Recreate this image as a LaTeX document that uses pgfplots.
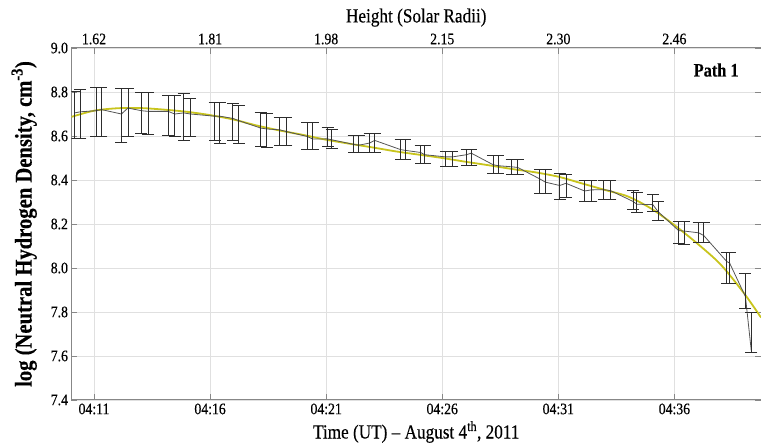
\documentclass[border=0pt]{standalone}
\usepackage{fontspec}
\setmainfont{Liberation Serif}[FakeStretch=0.86, FakeBold=0.35]
\usepackage{pgfplots}
\pgfplotsset{compat=1.18}
\usepackage{pgfplotstable}

\definecolor{fitcol}{RGB}{200,196,28}
\definecolor{datcol}{RGB}{85,85,85}
\definecolor{barcol}{RGB}{45,45,45}
\definecolor{gridcol}{RGB}{224,224,224}
\definecolor{axiscol}{RGB}{135,135,135}

% time in minutes after 04:00 UT, log density, upper and lower error
\pgfplotstableread{
t y ep em
10.17 8.705 0.100 0.115
10.41 8.710 0.100 0.120
11.10 8.715 0.105 0.115
11.32 8.720 0.100 0.120
12.18 8.700 0.115 0.130
12.46 8.727 0.090 0.130
13.04 8.715 0.085 0.105
13.33 8.712 0.085 0.105
14.19 8.712 0.075 0.110
14.48 8.700 0.085 0.100
14.86 8.705 0.087 0.125
15.15 8.700 0.070 0.100
16.20 8.690 0.065 0.110
16.42 8.690 0.065 0.125
16.98 8.680 0.070 0.100
17.23 8.670 0.070 0.105
18.18 8.636 0.070 0.085
18.44 8.632 0.073 0.083
19.00 8.628 0.057 0.071
19.29 8.620 0.065 0.063
20.18 8.598 0.066 0.060
20.42 8.586 0.078 0.048
21.06 8.587 0.053 0.034
21.23 8.583 0.046 0.038
22.18 8.562 0.040 0.037
22.40 8.558 0.045 0.033
22.87 8.568 0.042 0.043
23.09 8.580 0.030 0.055
24.21 8.538 0.045 0.046
24.39 8.535 0.048 0.043
25.07 8.525 0.031 0.048
25.24 8.515 0.041 0.038
26.15 8.505 0.025 0.043
26.44 8.505 0.025 0.043
27.05 8.515 0.023 0.050
27.25 8.522 0.016 0.055
28.18 8.470 0.042 0.041
28.40 8.465 0.047 0.036
28.99 8.460 0.035 0.036
29.25 8.457 0.038 0.033
30.20 8.405 0.042 0.064
30.45 8.390 0.057 0.049
31.06 8.375 0.057 0.061
31.33 8.385 0.040 0.065
32.13 8.350 0.048 0.047
32.42 8.355 0.043 0.052
32.95 8.356 0.042 0.046
33.24 8.352 0.046 0.042
34.21 8.303 0.050 0.038
34.38 8.290 0.054 0.037
35.07 8.288 0.045 0.031
35.29 8.257 0.046 0.042
36.18 8.170 0.042 0.056
36.42 8.168 0.044 0.062
37.04 8.160 0.047 0.044
37.26 8.148 0.059 0.032
38.25 8.030 0.041 0.098
38.38 8.022 0.050 0.090
39.06 7.870 0.104 0.052
39.31 7.625 0.173 0.009
}\hdata

% fitted profile
\pgfplotstableread{
t y
10.03 8.687
11.0 8.715
12.0 8.726
13.0 8.727
14.0 8.720
15.0 8.710
16.0 8.695
17.0 8.675
18.0 8.648
19.0 8.625
20.0 8.605
21.0 8.583
22.0 8.565
23.0 8.548
24.0 8.530
25.0 8.515
26.0 8.500
27.0 8.483
28.0 8.467
29.0 8.450
30.0 8.435
31.0 8.415
32.0 8.385
33.0 8.355
34.0 8.325
35.0 8.270
36.0 8.195
37.0 8.110
38.0 8.015
39.0 7.885
39.73 7.775
}\fitdata

\begin{document}
\begin{tikzpicture}
\pgfplotsset{
  common/.style={
    scale only axis, width=689.5pt, height=352pt,
    xmin=10.03, xmax=39.73, ymin=7.4, ymax=9.0,
    xtick={11,16,21,26,31,36},
    axis line style={axiscol, line width=1pt},
    tick style={axiscol, line width=0.8pt},
    major tick length=6pt, tick align=inside,
    ticklabel style={font=\fontsize{16}{16}\selectfont},
    label style={font=\fontsize{20}{20}\selectfont},
  }
}
\begin{axis}[common, name=main,
    xticklabels={04:11,04:16,04:21,04:26,04:31,04:36},
    xticklabel pos=left,
    ytick={7.4,7.6,7.8,8.0,8.2,8.4,8.6,8.8,9.0},
    yticklabel style={/pgf/number format/.cd, fixed, fixed zerofill, precision=1, assume math mode=true},
    grid=major, major grid style={gridcol, line width=0.6pt},
    xlabel={Time (UT) -- August 4\textsuperscript{th}, 2011},
    ylabel={\textbf{log (Neutral Hydrogen Density, cm\textsuperscript{-3})}},
    ylabel style={font=\fontsize{24}{24}\selectfont, yshift=7pt},
  ]
  \addplot[fitcol, line width=1.8pt, smooth] table[x=t, y=y] {\fitdata};
  \addplot[datcol, line width=0.8pt, no markers,
    error bars/.cd, y dir=both, y explicit,
    error bar style={barcol, line width=0.7pt},
    error mark options={barcol, rotate=90, mark size=6pt, line width=0.7pt}]
    table[x=t, y=y, y error plus=ep, y error minus=em] {\hdata};
  \node[font=\bfseries\fontsize{19}{19}\selectfont] at (rel axis cs:0.935,0.9375) {Path 1};
\end{axis}
\begin{axis}[common,
    hide y axis, axis x line*=top,
    major tick length=0pt,
    xticklabels={1.62,1.81,1.98,2.15,2.30,2.46},
    xlabel={Height (Solar Radii)},
  ]
\end{axis}
\pgfresetboundingbox
\path ([xshift=-71.5pt,yshift=-44pt]main.south west) rectangle ([yshift=48pt]main.north east);
\end{tikzpicture}
\end{document}
